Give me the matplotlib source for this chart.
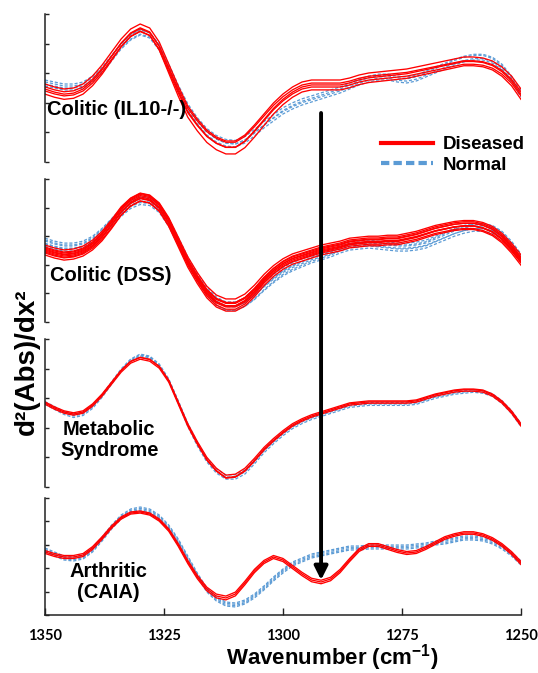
import numpy as np
import matplotlib
matplotlib.use("Agg")
import matplotlib.pyplot as plt
from matplotlib.lines import Line2D

plt.rcParams['font.family'] = ['Liberation Sans', 'DejaVu Sans']
plt.rcParams['mathtext.fontset'] = 'custom'
plt.rcParams['mathtext.bf'] = 'Liberation Sans:bold'
plt.rcParams['mathtext.rm'] = 'Liberation Sans:bold'

# wavenumber grid (cm-1), 1350 -> 1250 every 2
wavenumber = np.arange(1350, 1249, -2)

# second derivative traces, arbitrary units (height above each panel's floor)
il10_diseased = [72, 69, 67, 68, 72, 80, 91, 104, 117, 127,
                 132, 128, 114, 92, 70, 50, 37, 26, 19, 15,
                 15, 21, 31, 42, 53, 62, 69, 74, 76, 76,
                 76, 76, 78, 81, 83, 84, 85, 86, 87, 89,
                 91, 93, 95, 97, 99, 99, 98, 95, 89, 80, 67]
il10_normal = [78, 76, 74, 74, 76, 82, 91, 103, 115, 124,
               129, 126, 114, 94, 73, 54, 40, 29, 22, 18,
               17, 21, 28, 36, 43, 50, 55, 59, 62, 65,
               68, 71, 75, 79, 82, 84, 84, 82, 81, 83,
               87, 91, 95, 99, 102, 104, 104, 101, 94, 82, 67]

dss_diseased = [72, 69, 67, 68, 71, 77, 86, 98, 111, 120,
                125, 123, 115, 100, 80, 60, 44, 30, 21, 17,
                17, 22, 31, 42, 51, 58, 63, 66, 69, 72,
                74, 76, 79, 80, 81, 81, 82, 82, 84, 86,
                89, 92, 94, 96, 97, 97, 95, 91, 84, 74, 62]
dss_normal = [80, 77, 75, 75, 77, 82, 90, 100, 110, 118,
              122, 121, 114, 100, 81, 61, 44, 30, 20, 15,
              15, 19, 26, 35, 43, 50, 55, 59, 63, 66,
              69, 73, 76, 77, 78, 77, 76, 75, 75, 76,
              78, 82, 86, 90, 93, 95, 95, 93, 87, 77, 64]

metab_diseased = [84, 79, 75, 73, 75, 82, 92, 104, 116, 125,
                  129, 127, 120, 106, 84, 62, 44, 28, 17, 10,
                  11, 17, 27, 38, 47, 55, 62, 67, 71, 74,
                  77, 80, 83, 84, 85, 85, 85, 85, 85, 86,
                  89, 92, 94, 96, 97, 97, 96, 92, 85, 75, 62]
metab_normal = [84, 79, 74, 71, 73, 80, 91, 104, 117, 127,
                132, 130, 122, 107, 85, 62, 43, 27, 16, 10,
                10, 15, 25, 36, 45, 53, 60, 65, 69, 72,
                75, 78, 81, 82, 83, 83, 83, 83, 83, 84,
                87, 90, 92, 94, 95, 96, 95, 92, 85, 75, 62]

caia_diseased = [63, 60, 58, 58, 60, 67, 77, 88, 97, 102,
                 103, 101, 95, 85, 70, 53, 38, 26, 19, 17,
                 21, 32, 44, 53, 58, 55, 48, 41, 35, 33,
                 36, 44, 55, 65, 70, 70, 67, 64, 62, 63,
                 67, 72, 77, 80, 82, 82, 80, 76, 70, 62, 52]
caia_normal = [65, 61, 57, 56, 58, 65, 76, 88, 98, 104,
               106, 104, 98, 88, 74, 57, 40, 25, 16, 11,
               10, 13, 19, 27, 36, 44, 51, 55, 59, 61,
               63, 65, 67, 67, 68, 68, 68, 68, 68, 69,
               70, 72, 73, 75, 77, 77, 76, 73, 68, 61, 52]

panel_names = ["Colitic (IL10-/-)", "Colitic (DSS)", "Metabolic\nSyndrome", "Arthritic\n(CAIA)"]
panel_range = [148, 143, 148, 117]
diseased = [il10_diseased, dss_diseased, metab_diseased, caia_diseased]
normal = [il10_normal, dss_normal, metab_normal, caia_normal]

# spread of the individual replicate spectra around each group trace
diseased_shift = [[-4, -1, 1, 3, 6],
                  [-5, -3, -2, -1, 0, 1, 2, 3, 5],
                  [-1.2, 0, 1.2],
                  [-1.5, 0, 1.5]]
diseased_gain = [[1.05, 0.99, 1.02, 0.97, 1.0],
                 [1.02, 0.98, 1.04, 1.0, 0.97, 1.03, 0.99, 1.01, 0.98],
                 [1.0, 1.01, 0.99],
                 [1.01, 1.0, 0.99]]
normal_shift = [[-2, 0, 2, 4],
                [-4, -2, -1, 1, 2, 4],
                [-1.5, 0, 1.5],
                [-2, -0.7, 0.7, 2]]
normal_gain = [[1.0, 0.98, 1.02, 0.99],
               [0.99, 1.02, 0.97, 1.0, 1.03, 0.98],
               [1.01, 1.0, 0.99],
               [1.0, 1.0, 1.0, 1.0]]

xticks = [1350, 1325, 1300, 1275, 1250]

RED = '#ff0000'
BLUE = '#5b9bd5'

fig = plt.figure(figsize=(5.38, 6.73), dpi=100)

# panel boxes in figure fractions
boxes = [(0.0836, 0.7593, 0.8848, 0.2199),
         (0.0836, 0.5215, 0.8848, 0.2125),
         (0.0836, 0.2764, 0.8848, 0.2199),
         (0.0836, 0.0862, 0.8848, 0.1738)]
label_pos = [(1349.5, 52, 'left'), (1349.0, 47, 'left'),
             (1336.5, 47, 'center'), (1336.7, 33, 'center')]

axes = []
for i, box in enumerate(boxes):
    ax = fig.add_axes(box)
    ax.patch.set_alpha(0)
    H = panel_range[i]
    mid = H / 2.0
    norm = np.asarray(normal[i], dtype=float)
    dis = np.asarray(diseased[i], dtype=float)
    for s, g in zip(normal_shift[i], normal_gain[i]):
        ax.plot(wavenumber, mid + g * (norm - mid) + s, color=BLUE, lw=0.9,
                ls=(0, (2.5, 1.5)))
    for s, g in zip(diseased_shift[i], diseased_gain[i]):
        ax.plot(wavenumber, mid + g * (dis - mid) + s, color=RED, lw=0.95)

    ax.set_xlim(1350, 1250)
    ax.set_ylim(0, H)
    ax.set_yticks(np.linspace(0, H, 6))
    ax.set_yticklabels([])
    ax.tick_params(axis='y', direction='in', length=3, width=1, colors='#222222')
    for side in ['top', 'right']:
        ax.spines[side].set_visible(False)
    ax.spines['left'].set_linewidth(1.1)
    ax.spines['left'].set_color('#222222')
    if i < 3:
        ax.spines['bottom'].set_visible(False)
        ax.set_xticks([])
    else:
        ax.spines['bottom'].set_linewidth(1.1)
        ax.spines['bottom'].set_color('#222222')
        ax.set_xticks(xticks)
        ax.set_xticklabels([str(t) for t in xticks], fontfamily='Lato',
                           fontweight='bold', fontsize=10.5)
        ax.tick_params(axis='x', direction='in', length=5, width=1, pad=10,
                       colors='#222222', labelcolor='black')

    lx, ly, ha = label_pos[i]
    ax.text(lx, ly, panel_names[i], ha=ha, va='center', fontsize=14.5,
            fontweight='bold', linespacing=1.15)
    axes.append(ax)

# arrow running from the top panel down to the CAIA dip
axes[3].annotate('', xy=(1292, 35), xycoords='data',
                 xytext=(1292, 49), textcoords=axes[0].transData,
                 arrowprops=dict(arrowstyle='-|>', lw=2.8, color='black',
                                 mutation_scale=20, shrinkA=0, shrinkB=0))

handles = [Line2D([], [], color=RED, lw=3),
           Line2D([], [], color=BLUE, lw=3, ls=(0, (2, 1)))]
fig.legend(handles, ['Diseased', 'Normal'], loc='upper left',
           bbox_to_anchor=(0.708, 0.798), frameon=False,
           prop=dict(family='Liberation Sans', weight='bold', size=13.5),
           handlelength=2.8, handletextpad=0.5, labelspacing=0.2,
           borderpad=0, borderaxespad=0)

fig.text(0.050, 1 - 362 / 673, 'd²(Abs)/dx²', rotation=90, ha='center',
         va='center', fontsize=20, fontweight='bold')
fig.text(0.617, 0.013, r'Wavenumber (cm$^{\mathbf{-1}}$)', ha='center',
         va='baseline', fontsize=16, fontweight='bold')

fig.savefig('out.png', dpi=100)
